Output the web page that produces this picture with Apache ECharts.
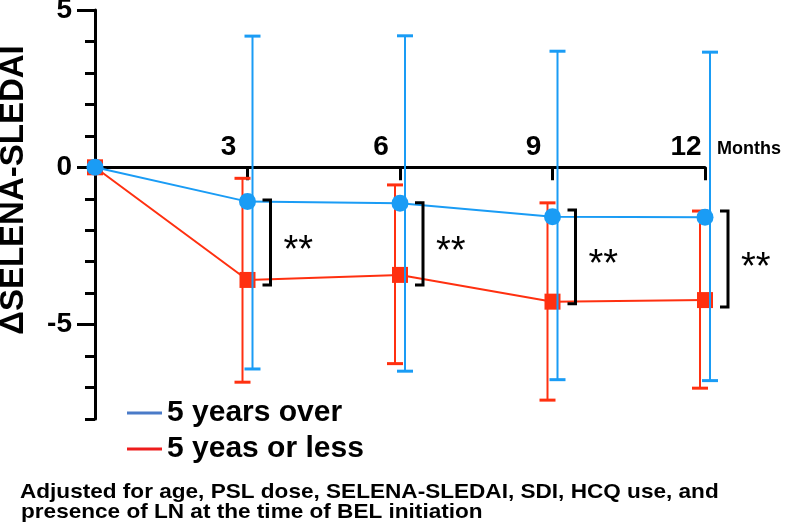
<!DOCTYPE html>
<html>
<head>
<meta charset="utf-8">
<script src="https://cdn.jsdelivr.net/npm/echarts@6/dist/echarts.min.js"></script>
<style>
  html, body { margin: 0; padding: 0; background: #fff; }
  #chart { width: 787px; height: 526px; }
</style>
</head>
<body>
<div id="chart"></div>
<script>
  // data
  const months = [0, 3, 6, 9, 12];
  const overMean = [0, -1.09, -1.14, -1.57, -1.59];
  const overLow = [null, -6.41, -6.48, -6.75, -6.78];
  const overHigh = [null, 4.17, 4.18, 3.69, 3.66];
  const lessMean = [0, -3.58, -3.42, -4.27, -4.22];
  const lessLow = [null, -6.83, -6.24, -7.40, -7.02];
  const lessHigh = [null, -0.35, -0.56, -1.13, -1.39];

  const bracketMonths = [3, 6, 9, 12];
  const bracketTop = [-1.04, -1.13, -1.36, -1.39];
  const bracketBottom = [-3.74, -3.74, -4.34, -4.44];
  const sigLabels = ["**", "**", "**", "**"];

  const xTickValues = [3, 6, 9, 12];
  const yLabelValues = [-5, 0, 5];
  const yMin = -8;
  const yMax = 5;

  const FONT = "'Liberation Sans', Arial, sans-serif";
  const BLUE = "#1a9cf5";
  const RED = "#ff3010";

  const GRID_TOP = 10;
  const GRID_BOTTOM = 107;
  const plotHeight = 526 - GRID_TOP - GRID_BOTTOM;
  // x axis sits on y = 0: shift it up from the grid bottom
  const xAxisOffset = -plotHeight * (0 - yMin) / (yMax - yMin);

  const chart = echarts.init(document.getElementById("chart"));

  const pairs = (a) => months.map((m, i) => [m, a[i]]);
  const errData = (low, high) =>
    months.map((m, i) => [m, low[i], high[i]]).filter(d => d[1] !== null);

  // error bar drawn with a small pixel shift left/right of the point
  function errorBar(shift, color) {
    return function (params, api) {
      const x = api.value(0);
      const lo = api.coord([x, api.value(1)]);
      const hi = api.coord([x, api.value(2)]);
      const cx = lo[0] + shift;
      return {
        type: "group",
        children: [
          { type: "line", shape: { x1: cx, y1: lo[1], x2: cx, y2: hi[1] }, style: { stroke: color, lineWidth: 2 } },
          { type: "line", shape: { x1: cx - 8, y1: lo[1], x2: cx + 8, y2: lo[1] }, style: { stroke: color, lineWidth: 3 } },
          { type: "line", shape: { x1: cx - 8, y1: hi[1], x2: cx + 8, y2: hi[1] }, style: { stroke: color, lineWidth: 3 } }
        ]
      };
    };
  }

  function bracket(params, api) {
    const x = api.value(0);
    const top = api.coord([x, api.value(1)]);
    const bot = api.coord([x, api.value(2)]);
    const bx = top[0] + 23;
    return {
      type: "group",
      children: [
        {
          type: "polyline",
          shape: { points: [[bx - 8, top[1]], [bx, top[1]], [bx, bot[1]], [bx - 8, bot[1]]] },
          style: { stroke: "#000", lineWidth: 3, fill: null }
        },
        {
          type: "text",
          x: bx + 13,
          y: (top[1] + bot[1]) / 2 + 9,
          style: {
            text: sigLabels[params.dataIndex],
            font: "38px " + FONT,
            fill: "#000",
            align: "left",
            verticalAlign: "middle"
          }
        }
      ]
    };
  }

  const option = {
    animation: false,
    backgroundColor: "#fff",
    grid: { left: 95, right: 82, top: GRID_TOP, bottom: GRID_BOTTOM, outerBoundsMode: "none" },
    legend: {
      orient: "vertical",
      left: 127,
      top: 398,
      padding: 0,
      itemWidth: 35,
      itemHeight: 3,
      itemGap: 6,
      icon: "rect",
      textStyle: { fontFamily: FONT, fontWeight: "bold", fontSize: 30, lineHeight: 30, color: "#000" },
      data: [
        { name: "5 years over", itemStyle: { color: "#4a7bc8" } },
        { name: "5 yeas or less", itemStyle: { color: "#ee1c1c" } }
      ]
    },
    xAxis: {
      type: "value",
      min: 0,
      max: 12,
      position: "bottom",
      offset: xAxisOffset,
      axisLine: { onZero: false, lineStyle: { color: "#000", width: 3 } },
      axisTick: { customValues: xTickValues, length: 13, lineStyle: { color: "#000", width: 3 } },
      axisLabel: {
        customValues: xTickValues,
        inside: true,
        margin: 6,
        fontFamily: FONT,
        fontWeight: "bold",
        fontSize: 28,
        color: "#000",
        align: "center",
        padding: [0, 38, 0, 0]
      },
      splitLine: { show: false },
      name: "Months",
      nameLocation: "end",
      nameGap: 12,
      nameTextStyle: {
        fontFamily: FONT,
        fontWeight: "bold",
        fontSize: 18,
        color: "#000",
        verticalAlign: "bottom",
        padding: [0, 0, 9, 0]
      }
    },
    yAxis: [
      {
        type: "value",
        min: yMin,
        max: yMax,
        interval: 1,
        axisLine: { show: true, onZero: false, lineStyle: { color: "#000", width: 3 } },
        axisTick: { show: true, length: 10, lineStyle: { color: "#000", width: 3 } },
        axisLabel: { show: false },
        splitLine: { show: false }
      },
      {
        type: "value",
        min: yMin,
        max: yMax,
        position: "left",
        axisLine: { show: false, onZero: false },
        axisTick: { show: true, customValues: yLabelValues, length: 18, lineStyle: { color: "#000", width: 3 } },
        axisLabel: {
          customValues: yLabelValues,
          margin: 23,
          fontFamily: FONT,
          fontWeight: "bold",
          fontSize: 28,
          color: "#000"
        },
        splitLine: { show: false }
      }
    ],
    graphic: [
      {
        type: "text",
        x: 14,
        y: 190,
        rotation: Math.PI / 2,
        style: {
          text: "\u0394SELENA-SLEDAI",
          font: "bold 33px " + FONT,
          fill: "#000",
          align: "center",
          verticalAlign: "middle"
        }
      },
      {
        type: "text",
        x: 20,
        y: 492,
        scaleX: 1.075,
        style: {
          text: "Adjusted for age, PSL dose, SELENA-SLEDAI, SDI, HCQ use, and",
          font: "bold 21px " + FONT,
          fill: "#000",
          align: "left",
          verticalAlign: "middle"
        }
      },
      {
        type: "text",
        x: 21,
        y: 512,
        scaleX: 1.075,
        style: {
          text: "presence of LN at the time of BEL initiation",
          font: "bold 21px " + FONT,
          fill: "#000",
          align: "left",
          verticalAlign: "middle"
        }
      }
    ],
    series: [
      {
        name: "5 yeas or less",
        type: "line",
        data: pairs(lessMean),
        symbol: "rect",
        symbolSize: 16,
        itemStyle: { color: RED },
        lineStyle: { color: RED, width: 2 },
        z: 2
      },
      {
        name: "5 yeas or less err",
        type: "custom",
        data: errData(lessLow, lessHigh),
        encode: { x: 0, y: [1, 2] },
        renderItem: errorBar(-5, RED),
        z: 3
      },
      {
        name: "5 years over err",
        type: "custom",
        data: errData(overLow, overHigh),
        encode: { x: 0, y: [1, 2] },
        renderItem: errorBar(5, BLUE),
        z: 4
      },
      {
        name: "5 years over",
        type: "line",
        data: pairs(overMean),
        symbol: "circle",
        symbolSize: 17,
        itemStyle: { color: BLUE },
        lineStyle: { color: BLUE, width: 2 },
        z: 5
      },
      {
        name: "significance",
        type: "custom",
        data: bracketMonths.map((m, i) => [m, bracketTop[i], bracketBottom[i]]),
        encode: { x: 0, y: [1, 2] },
        renderItem: bracket,
        z: 6
      }
    ]
  };

  chart.setOption(option);
</script>
</body>
</html>
